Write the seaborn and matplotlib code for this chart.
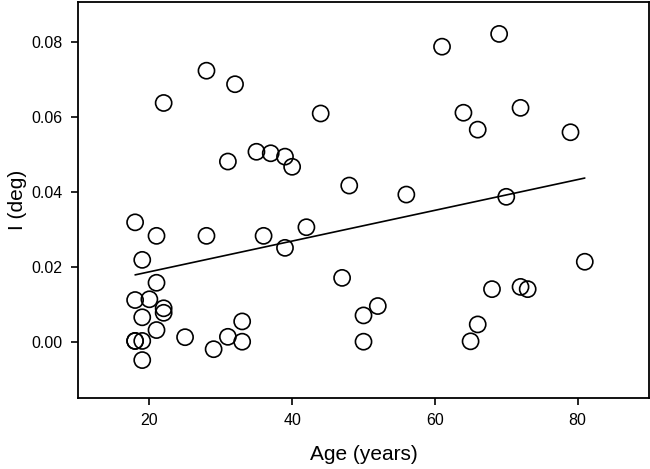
import numpy as np
import pandas as pd
import seaborn as sns
import matplotlib.pyplot as plt

# Data
age = [18, 21, 19, 21, 18, 20, 22, 22, 19, 21, 18, 18, 19, 19, 22,
       28, 32, 44, 35, 37, 39, 40, 31, 48, 28, 36, 42, 39, 47,
       25, 29, 31, 33, 33, 50, 50, 52,
       61, 69, 64, 66, 72, 79, 56, 70, 81, 68, 72, 73, 66, 65]
i_deg = [0.0319, 0.0283, 0.0219, 0.0158, 0.0112, 0.0114, 0.0090, 0.0078, 0.0066, 0.0032,
         0.0003, 0.0003, 0.0003, -0.0048, 0.0637,
         0.0723, 0.0687, 0.0609, 0.0507, 0.0503, 0.0494, 0.0467, 0.0481, 0.0417,
         0.0283, 0.0283, 0.0306, 0.0251, 0.0171,
         0.0013, -0.0019, 0.0014, 0.0055, 0.0001, 0.0071, 0.0001, 0.0096,
         0.0787, 0.0821, 0.0611, 0.0566, 0.0624, 0.0559, 0.0393, 0.0387, 0.0214,
         0.0141, 0.0147, 0.0141, 0.0047, 0.0002]

# regression line end points
fit_age = [18, 81]
fit_i = [0.0179, 0.0437]

x_ticks = [20, 40, 60, 80]
y_ticks = [0.00, 0.02, 0.04, 0.06, 0.08]

df = pd.DataFrame({"age": age, "i": i_deg})
fit = pd.DataFrame({"age": fit_age, "i": fit_i})

sns.set_style("ticks")
plt.rcParams['font.family'] = ['Liberation Sans', 'DejaVu Sans']
plt.rcParams['text.color'] = 'black'
plt.rcParams['axes.labelcolor'] = 'black'
plt.rcParams['xtick.color'] = 'black'
plt.rcParams['ytick.color'] = 'black'

fig = plt.figure(figsize=(6.5, 4.69), dpi=100)
ax = fig.add_axes([0.12, 0.1514, 0.8785, 0.8443])

sns.scatterplot(data=df, x="age", y="i", ax=ax, s=135, facecolor="none",
                edgecolor="black", linewidth=1.2, marker="o")
sns.lineplot(data=fit, x="age", y="i", ax=ax, color="black", linewidth=1.2)

ax.set_xlim(10, 90)
ax.set_ylim(-0.0149, 0.0906)
ax.set_xticks(x_ticks)
ax.set_yticks(y_ticks)
ax.set_xticklabels([str(t) for t in x_ticks])
ax.set_yticklabels([f"{t:.2f}" for t in y_ticks])
ax.tick_params(axis="both", labelsize=11.5, length=5, width=1.2, color="black", pad=6)

ax.set_xlabel("Age (years)", fontsize=15, labelpad=12)
ax.set_ylabel("I (deg)", fontsize=15, labelpad=3)

for side in ["left", "right", "top", "bottom"]:
    ax.spines[side].set_visible(True)
    ax.spines[side].set_linewidth(1.3)
    ax.spines[side].set_color("black")

fig.savefig("out.png", dpi=100)
